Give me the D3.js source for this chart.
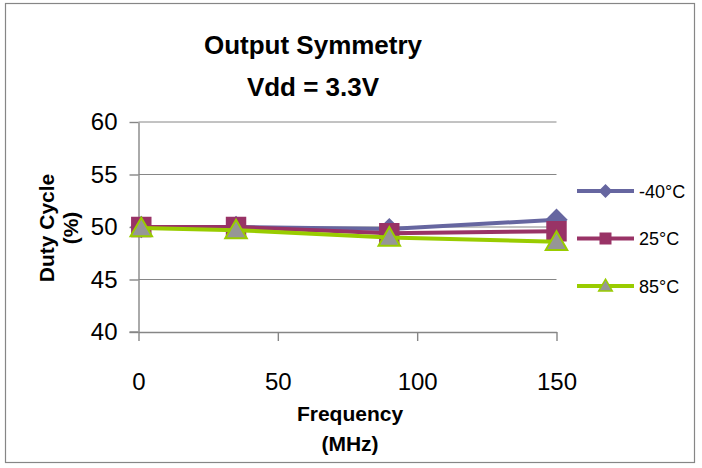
<!DOCTYPE html>
<html>
<head>
<meta charset="utf-8">
<script src="https://cdn.jsdelivr.net/npm/d3@7"></script>
<style>
	html, body { margin: 0; padding: 0; background: #fff; }
	svg { display: block; font-family: "Liberation Sans", Arial, sans-serif; }
</style>
</head>
<body>
<script>
	// DATA //

	var frequencies = [ 1, 35, 90, 150 ],
		seriesNames = [ '-40°C', '25°C', '85°C' ],
		dutyM40 = [ 50.0, 50.0, 49.8, 50.7 ],
		duty25 = [ 50.0, 50.0, 49.4, 49.6 ],
		duty85 = [ 49.9, 49.7, 49.0, 48.6 ],
		xTicks = [ 0, 50, 100, 150 ],
		yTicks = [ 40, 45, 50, 55, 60 ];

	// VARIABLES //

	var WIDTH = 702,
		HEIGHT = 468,
		AXIS = '#868686';

	var series = [
		{ name: seriesNames[ 0 ], values: dutyM40, line: '#6666a0', fill: '#6666a0', stroke: '#6666a0', kind: 'diamond' },
		{ name: seriesNames[ 1 ], values: duty25, line: '#993366', fill: '#993366', stroke: '#993366', kind: 'square' },
		{ name: seriesNames[ 2 ], values: duty85, line: '#99cc00', fill: '#969696', stroke: '#99cc00', kind: 'triangle' }
	];

	/**
	* FUNCTION: marker( kind, big )
	*	Returns the path string for a marker.
	*/
	function marker( kind, big ) {
		if ( kind === 'triangle' ) {
			return d3.symbol().type( d3.symbolTriangle ).size( big ? 200 : 80 )();
		}
		if ( kind === 'diamond' ) {
			return d3.symbol().type( d3.symbolSquare ).size( big ? 190 : 70 )();
		}
		return d3.symbol().type( d3.symbolSquare ).size( big ? 340 : 110 )();
	}

	function markerTransform( kind ) {
		if ( kind === 'diamond' ) {
			return ' rotate(45)';
		}
		if ( kind === 'triangle' ) {
			return ' translate(0,2)';
		}
		return '';
	}

	var x = d3.scaleLinear().domain( [ 0, 150 ] ).range( [ 138.5, 556.5 ] ),
		y = d3.scaleLinear().domain( [ 40, 60 ] ).range( [ 332, 122 ] );

	var svg = d3.select( 'body' ).append( 'svg' )
		.attr( 'width', WIDTH )
		.attr( 'height', HEIGHT );

	// Chart frame:
	svg.append( 'rect' )
		.attr( 'x', 5.5 ).attr( 'y', 3.5 )
		.attr( 'width', 689 ).attr( 'height', 459 )
		.attr( 'fill', '#fff' )
		.attr( 'stroke', AXIS )
		.attr( 'stroke-width', 1.2 );

	// Title:
	var title = svg.append( 'text' )
		.attr( 'text-anchor', 'middle' )
		.attr( 'font-weight', 'bold' )
		.attr( 'font-size', 26 )
		.attr( 'fill', '#000' );
	title.append( 'tspan' ).attr( 'x', 313 ).attr( 'y', 54 ).text( 'Output Symmetry' );
	title.append( 'tspan' ).attr( 'x', 313 ).attr( 'y', 96 ).text( 'Vdd = 3.3V' );

	// Gridlines:
	svg.append( 'g' )
		.selectAll( 'line' )
		.data( yTicks.slice( 1 ) )
		.enter().append( 'line' )
		.attr( 'x1', x( 0 ) ).attr( 'x2', x( 150 ) )
		.attr( 'y1', function ( d ) { return y( d ); } )
		.attr( 'y2', function ( d ) { return y( d ); } )
		.attr( 'stroke', AXIS )
		.attr( 'stroke-width', 1 );

	// Axes:
	var xAxis = svg.append( 'g' )
		.attr( 'transform', 'translate(0,' + y( 40 ) + ')' )
		.call( d3.axisBottom( x ).tickValues( xTicks ).tickSize( 9 ).tickPadding( 32 ).tickSizeOuter( 0 ) );
	var yAxis = svg.append( 'g' )
		.attr( 'transform', 'translate(' + x( 0 ) + ',0)' )
		.call( d3.axisLeft( y ).tickValues( yTicks ).tickSize( 9 ).tickPadding( 12 ).tickSizeOuter( 0 ) );

	[ xAxis, yAxis ].forEach( function ( g ) {
		g.select( '.domain' ).attr( 'stroke', AXIS ).attr( 'stroke-width', 1.4 );
		g.selectAll( '.tick line' ).attr( 'stroke', AXIS ).attr( 'stroke-width', 1.4 );
		g.selectAll( '.tick text' )
			.attr( 'font-size', 24 )
			.attr( 'font-family', '"Liberation Sans", Arial, sans-serif' )
			.attr( 'fill', '#000' );
	});
	// Extend the x axis line left to meet the y ticks:
	xAxis.append( 'line' )
		.attr( 'x1', x( 0 ) - 9 ).attr( 'x2', x( 0 ) )
		.attr( 'stroke', AXIS ).attr( 'stroke-width', 1.4 );

	// Axis titles:
	var yTitle = svg.append( 'text' )
		.attr( 'transform', 'translate(0,228) rotate(-90)' )
		.attr( 'text-anchor', 'middle' )
		.attr( 'font-weight', 'bold' )
		.attr( 'font-size', 21 );
	yTitle.append( 'tspan' ).attr( 'x', 0 ).attr( 'y', 54 ).text( 'Duty Cycle' );
	yTitle.append( 'tspan' ).attr( 'x', 0 ).attr( 'y', 78 ).text( '(%)' );

	var xTitle = svg.append( 'text' )
		.attr( 'text-anchor', 'middle' )
		.attr( 'font-weight', 'bold' )
		.attr( 'font-size', 21 );
	xTitle.append( 'tspan' ).attr( 'x', 350 ).attr( 'y', 421 ).text( 'Frequency' );
	xTitle.append( 'tspan' ).attr( 'x', 350 ).attr( 'y', 451 ).text( '(MHz)' );

	// Series:
	var line = d3.line()
		.x( function ( d, i ) { return x( frequencies[ i ] ); } )
		.y( function ( d ) { return y( d ); } );

	series.forEach( function ( s ) {
		var g = svg.append( 'g' );
		g.append( 'path' )
			.attr( 'd', line( s.values ) )
			.attr( 'fill', 'none' )
			.attr( 'stroke', s.line )
			.attr( 'stroke-width', 4 )
			.attr( 'stroke-linejoin', 'round' );
		g.selectAll( 'path.mark' )
			.data( s.values )
			.enter().append( 'path' )
			.attr( 'class', 'mark' )
			.attr( 'd', marker( s.kind, true ) )
			.attr( 'transform', function ( d, i ) {
				return 'translate(' + x( frequencies[ i ] ) + ',' + y( d ) + ')' + markerTransform( s.kind );
			})
			.attr( 'fill', s.fill )
			.attr( 'stroke', s.stroke )
			.attr( 'stroke-width', 2 );
	});

	// Legend:
	var legend = svg.append( 'g' )
		.selectAll( 'g' )
		.data( series )
		.enter().append( 'g' )
		.attr( 'transform', function ( d, i ) { return 'translate(577,' + ( 191 + i * 47.5 ) + ')'; } );
	legend.append( 'line' )
		.attr( 'x1', 0 ).attr( 'x2', 57 )
		.attr( 'stroke', function ( d ) { return d.line; } )
		.attr( 'stroke-width', 4 );
	legend.append( 'path' )
		.attr( 'd', function ( d ) { return marker( d.kind, false ); } )
		.attr( 'transform', function ( d ) {
			return 'translate(28.5,0)' + ( d.kind === 'diamond' ? ' rotate(45)' : ( d.kind === 'triangle' ? ' translate(0,1)' : '' ) );
		})
		.attr( 'fill', function ( d ) { return d.fill; } )
		.attr( 'stroke', function ( d ) { return d.stroke; } )
		.attr( 'stroke-width', 1.5 );
	legend.append( 'text' )
		.attr( 'x', 62 )
		.attr( 'y', 6.5 )
		.attr( 'font-size', 18 )
		.text( function ( d ) { return d.name; } );
</script>
</body>
</html>
